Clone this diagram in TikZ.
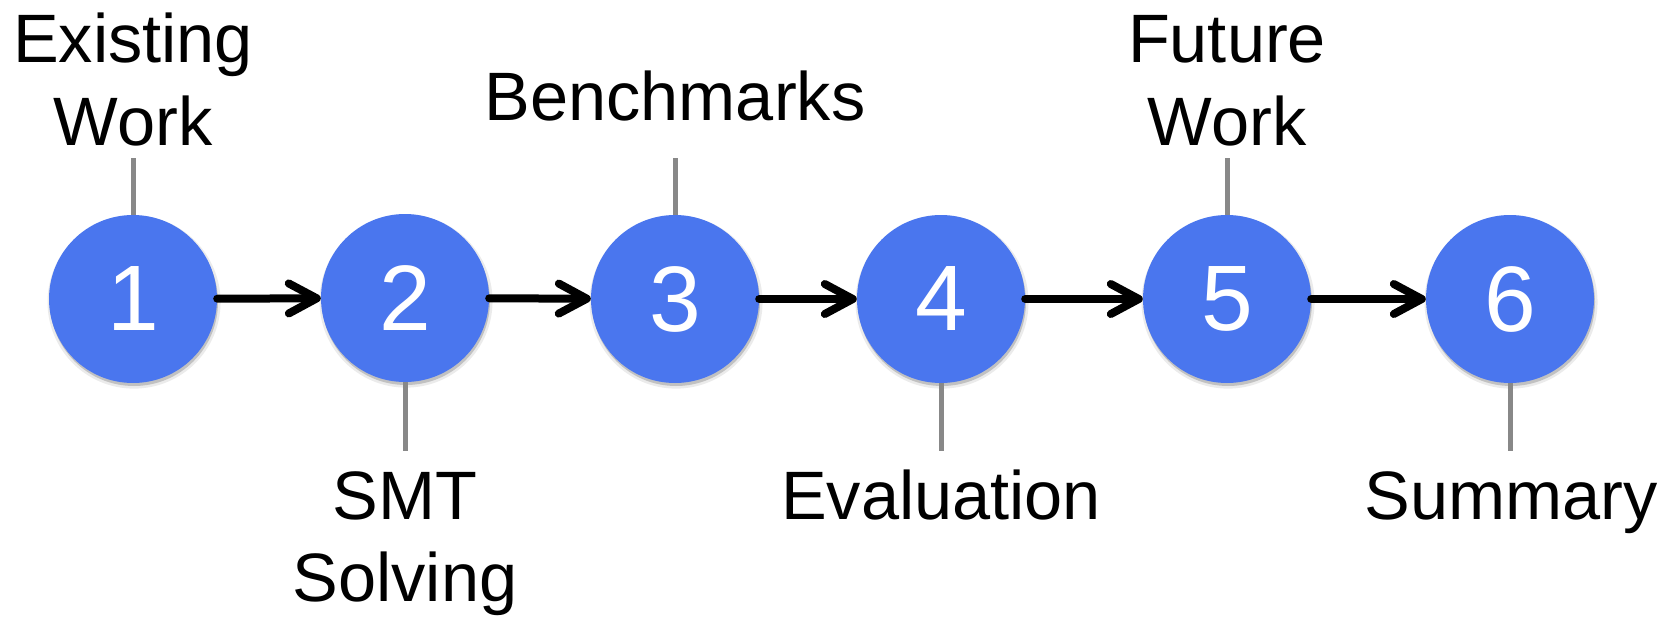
\documentclass[tikz,border=0pt]{standalone}
\usepackage{fontspec}
\setmainfont{Liberation Sans}
\usetikzlibrary{arrows.meta,shadows}
\definecolor{stepblue}{HTML}{4A76EE}
\definecolor{tickgray}{HTML}{888888}
\begin{document}
\begin{tikzpicture}[x=1pt,y=-1pt,
  stage/.style={circle, fill=stepblue, minimum size=168pt, inner sep=0pt,
    text=white, font=\fontsize{93}{93}\selectfont,
    drop shadow={shadow xshift=1pt, shadow yshift=-3pt, shadow scale=1.03, opacity=0.08, fill=black},
    drop shadow={shadow xshift=1pt, shadow yshift=-3pt, opacity=0.18, fill=black}},
  flow/.style={line width=8pt, line cap=round,
    -{Straight Barb[length=28pt, width=30pt, round]}},
  tick/.style={line width=5pt, draw=tickgray},
  lbl/.style={font=\fontsize{68.5}{82}\selectfont, anchor=base, inner sep=0pt}]
\useasboundingbox (0,0) rectangle (1673,616);

% stages
\node[stage] (s1) at (133,299) {1};
\node[stage] (s2) at (405,298) {2};
\node[stage] (s3) at (675,299) {3};
\node[stage] (s4) at (941,299) {4};
\node[stage] (s5) at (1227,299) {5};
\node[stage] (s6) at (1510,299) {6};

% flow arrows
\draw[flow] (s1) -- (s2);
\draw[flow] (s2) -- (s3);
\draw[flow] (s3) -- (s4);
\draw[flow] (s4) -- (s5);
\draw[flow] (s5) -- (s6);

% label ticks
\coordinate (t1) at (133,158);
\coordinate (t2) at (405,451);
\coordinate (t3) at (675,158);
\coordinate (t4) at (941,451);
\coordinate (t5) at (1227,158);
\coordinate (t6) at (1510,451);
\draw[tick] (s1.north) -- (t1);
\draw[tick] (s2.south) -- (t2);
\draw[tick] (s3.north) -- (t3);
\draw[tick] (s4.south) -- (t4);
\draw[tick] (s5.north) -- (t5);
\draw[tick] (s6.south) -- (t6);

% labels
\node[lbl] (l1a) at (133,62) {Existing};
\node[lbl] (l1b) at (133,145) {Work};
\node[lbl] (l2a) at (405,519) {SMT};
\node[lbl] (l2b) at (405,601) {Solving};
\node[lbl] (l3) at (675,120) {Benchmarks};
\node[lbl] (l4) at (941,519) {Evaluation};
\node[lbl] (l5a) at (1227,62) {Future};
\node[lbl] (l5b) at (1227,145) {Work};
\node[lbl] (l6) at (1511,519) {Summary};
\end{tikzpicture}
\end{document}
